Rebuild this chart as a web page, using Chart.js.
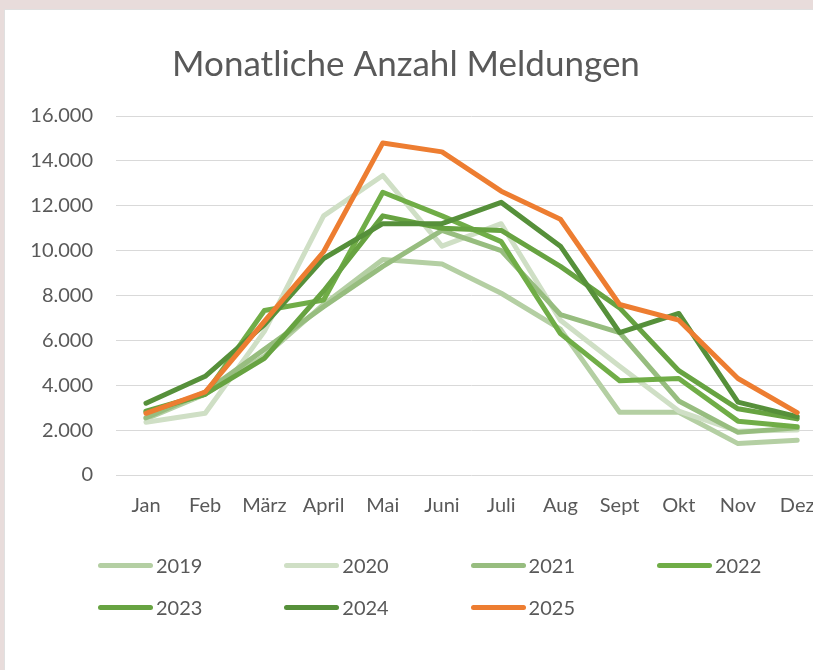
<!DOCTYPE html>
<html>
<head>
<meta charset="utf-8">
<script src="https://cdn.jsdelivr.net/npm/chart.js@4"></script>
<style>
  html, body { margin: 0; padding: 0; overflow: hidden; }
  body { background: #e8dcdb; width: 813px; height: 670px; position: relative; font-family: Lato, sans-serif; }
  #card { position: absolute; left: 4px; top: 9px; width: 900px; height: 700px; background: #fff; border-top: 1px solid #e0e0e0; border-left: 1px solid #e0e0e0; }
  #chart { position: absolute; left: 0; top: 0; }
  #legend { position: absolute; left: 0; top: 0; }
  .lg-item { position: absolute; height: 24px; display: flex; align-items: center; color: #595959; font-size: 20px; }
  .lg-line { width: 55px; height: 5px; border-radius: 3px; margin-right: 3px; }
</style>
</head>
<body>
<div id="card"></div>
<canvas id="chart" width="840" height="670"></canvas>
<div id="legend"></div>
<script>
// data
const months = ['Jan', 'Feb', 'März', 'April', 'Mai', 'Juni', 'Juli', 'Aug', 'Sept', 'Okt', 'Nov', 'Dez'];
const years = ['2019', '2020', '2021', '2022', '2023', '2024', '2025'];
const colours = ['#b4cfa3', '#cfdfc5', '#97bd7f', '#70ad47', '#67a341', '#56903a', '#ed7d31'];

const v2019 = [2500, 3600, 5300, 7600, 9600, 9400, 8100, 6500, 2800, 2800, 1400, 1550];
const v2020 = [2350, 2750, 6400, 11550, 13350, 10200, 11200, 6900, 4850, 2850, 1950, 2000];
const v2021 = [2550, 3700, 5600, 7500, 9300, 10900, 10000, 7150, 6350, 3300, 1900, 2100];
const v2022 = [2800, 3600, 7330, 7800, 12600, 11550, 10400, 6300, 4200, 4300, 2400, 2150];
const v2023 = [2850, 3600, 5200, 8200, 11550, 11000, 10900, 9300, 7450, 4650, 2950, 2500];
const v2024 = [3200, 4400, 6700, 9650, 11200, 11200, 12150, 10200, 6350, 7200, 3250, 2600];
const v2025 = [2750, 3700, 6850, 9950, 14800, 14400, 12650, 11400, 7600, 6900, 4300, 2780];

const series = [v2019, v2020, v2021, v2022, v2023, v2024, v2025];
const yTicks = [0, 2000, 4000, 6000, 8000, 10000, 12000, 14000, 16000];

const TEXT = '#595959';
Chart.defaults.font.family = 'Lato, sans-serif';
Chart.defaults.color = TEXT;

function dots(n) {
    return String(n).replace(/\B(?=(\d{3})+(?!\d))/g, '.');
}

// title is centred on the page, not on the (wider) canvas
const titleText = {
    id: 'titleText',
    afterDraw(chart) {
        const ctx = chart.ctx;
        ctx.save();
        ctx.font = '35px Lato, sans-serif';
        ctx.fillStyle = TEXT;
        ctx.textAlign = 'center';
        ctx.textBaseline = 'middle';
        ctx.fillText('Monatliche Anzahl Meldungen', 406, 65);
        ctx.restore();
    }
};

// excel style legend, fixed columns
const htmlLegend = {
    id: 'htmlLegend',
    afterUpdate(chart) {
        const box = document.getElementById('legend');
        box.innerHTML = '';
        const items = chart.options.plugins.legend.labels.generateLabels(chart)
            .sort((a, b) => a.datasetIndex - b.datasetIndex);
        items.forEach((item, i) => {
            const col = i % 4, row = Math.floor(i / 4);
            const el = document.createElement('div');
            el.className = 'lg-item';
            el.style.left = (98 + col * 186.3) + 'px';
            el.style.top = (565 + row * 42 - 12) + 'px';
            const line = document.createElement('span');
            line.className = 'lg-line';
            line.style.background = item.strokeStyle;
            const txt = document.createElement('span');
            txt.textContent = item.text;
            el.appendChild(line);
            el.appendChild(txt);
            box.appendChild(el);
        });
    }
};

const datasets = years.map((y, i) => ({
    label: y,
    data: series[i],
    borderColor: colours[i],
    backgroundColor: colours[i],
    borderWidth: 5,
    borderJoinStyle: 'round',
    borderCapStyle: 'round',
    pointRadius: 0,
    pointHoverRadius: 0,
    tension: 0,
    order: years.length - i   // 2025 drawn on top
}));

new Chart(document.getElementById('chart'), {
    type: 'line',
    data: { labels: months, datasets },
    options: {
        responsive: false,
        animation: false,
        devicePixelRatio: 1,
        layout: { padding: { top: 116, left: 10, right: 13.2, bottom: 125 } },
        plugins: {
            legend: { display: false },
            title: { display: false },
            tooltip: { enabled: false }
        },
        scales: {
            x: {
                offset: true,
                grid: { display: false },
                border: { display: false },
                ticks: { font: { size: 20 }, padding: 11, maxRotation: 0, autoSkip: false },
                afterFit(scale) { scale.height = 70; }
            },
            y: {
                min: 0,
                max: 16000,
                afterBuildTicks(scale) { scale.ticks = yTicks.map(v => ({ value: v })); },
                grid: { color: '#d9d9d9', lineWidth: 1, drawTicks: false },
                border: { display: false },
                ticks: { font: { size: 20 }, padding: 23.4, callback: v => dots(v) },
                afterFit(scale) { scale.width = 106.4; }
            }
        }
    },
    plugins: [titleText, htmlLegend]
});
</script>
</body>
</html>
